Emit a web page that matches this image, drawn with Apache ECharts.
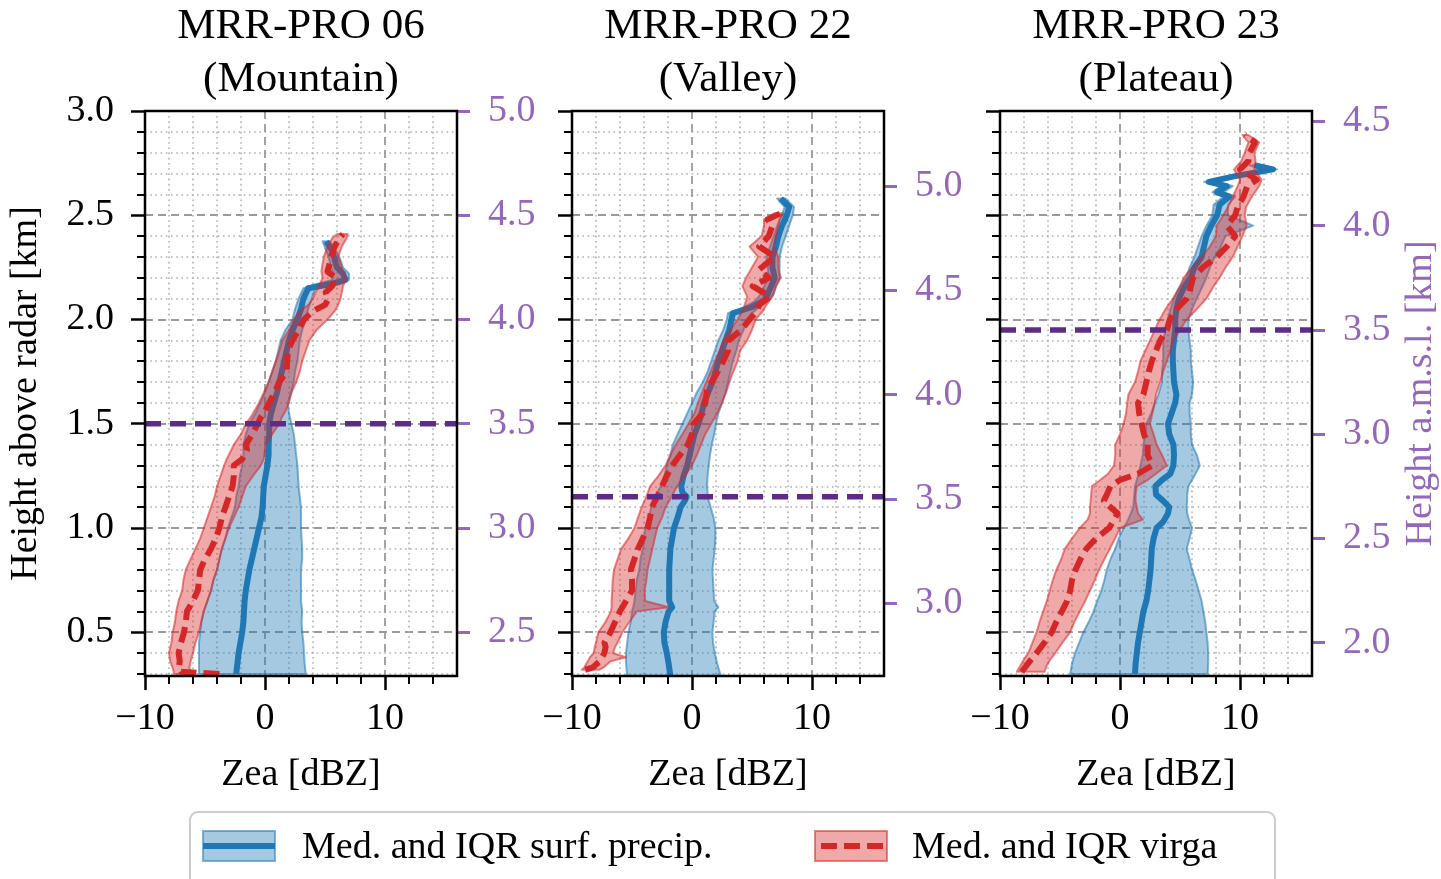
<!DOCTYPE html>
<html><head><meta charset="utf-8">
<script src="https://cdn.jsdelivr.net/npm/echarts@6/dist/echarts.min.js"></script>
<style>html,body{margin:0;padding:0;background:#fff}#c{width:1441px;height:879px}</style>
</head><body><div id="c"></div>
<script>
// ---------- data ----------
const panelTitles = ['MRR-PRO 06\n(Mountain)', 'MRR-PRO 22\n(Valley)', 'MRR-PRO 23\n(Plateau)'];
const radarAltitude = [2.0, 2.36, 1.55];          // km a.m.s.l. of each radar
const refLineHeight = [1.5, 1.15, 1.95];          // km above radar (dashed purple line)
const xMajorTicks = [-10, 0, 10];
const xMinorTicks = [-8, -6, -4, -2, 2, 4, 6, 8, 12, 14];
const yMajorTicks = [0.5, 1.0, 1.5, 2.0, 2.5, 3.0];
const yMinorTicks = [0.3,0.4,0.6,0.7,0.8,0.9,1.1,1.2,1.3,1.4,1.6,1.7,1.8,1.9,2.1,2.2,2.3,2.4,2.6,2.7,2.8,2.9];
const rightTicks = [[2.5,3.0,3.5,4.0,4.5,5.0],[3.0,3.5,4.0,4.5,5.0],[2.0,2.5,3.0,3.5,4.0,4.5]];
const legendLabels = ['Med. and IQR surf. precip.', 'Med. and IQR virga'];

// Panel 1 (Mountain)
const p1SurfH   = [0.30,0.35,0.40,0.45,0.50,0.55,0.60,0.65,0.70,0.75,0.80,0.85,0.90,0.95,1.00,1.05,1.10,1.15,1.20,1.25,1.30,1.35,1.40,1.45,1.50,1.55,1.60,1.65,1.70,1.75,1.80,1.85,1.90,1.95,2.00,2.05,2.10,2.15,2.17,2.19,2.22,2.25,2.30,2.33,2.375];
const p1SurfMed = [-2.4,-2.3,-2.2,-2.05,-1.9,-1.8,-1.75,-1.7,-1.6,-1.45,-1.3,-1.1,-0.9,-0.7,-0.5,-0.3,-0.2,-0.15,-0.1,0.05,0.2,0.3,0.3,0.35,0.35,0.5,0.75,1.0,1.2,1.4,1.6,1.8,2.0,2.3,2.7,3.0,3.2,3.6,5.5,6.7,6.5,6.0,5.75,5.6,5.1];
const p1SurfQ25 = [-5.5,-5.5,-5.5,-5.5,-5.4,-5.3,-5.1,-4.8,-4.5,-4.3,-4.0,-3.8,-3.6,-3.3,-3.1,-2.8,-2.5,-2.4,-2.2,-2.1,-1.9,-1.8,-1.8,-1.6,-1.3,-0.8,-0.4,0.0,0.3,0.6,0.9,1.1,1.3,1.7,2.3,2.5,2.8,3.2,4.3,5.6,5.7,5.5,5.3,5.1,4.8];
const p1SurfQ75 = [3.4,3.3,3.25,3.2,3.1,3.05,3.1,3.0,3.0,3.0,3.0,3.1,3.1,3.05,3.0,3.0,3.0,2.9,2.8,2.75,2.7,2.6,2.5,2.4,2.2,2.0,1.9,2.2,2.4,2.5,2.7,2.8,2.9,3.1,3.4,3.6,3.9,4.2,6.3,7.0,7.0,6.5,6.2,5.9,5.4];
const p1VirgaH   = [0.30,0.31,0.33,0.36,0.40,0.45,0.50,0.55,0.60,0.65,0.70,0.75,0.80,0.85,0.90,0.95,1.00,1.05,1.10,1.15,1.20,1.25,1.30,1.33,1.375,1.40,1.45,1.50,1.53,1.56,1.60,1.65,1.70,1.75,1.80,1.85,1.90,1.95,2.00,2.04,2.07,2.10,2.13,2.16,2.20,2.23,2.27,2.30,2.35,2.39,2.41];
const p1VirgaMed = [-3.8,-7.0,-7.2,-7.1,-7.2,-7.0,-6.75,-6.6,-6.5,-6.0,-5.6,-5.5,-5.4,-5.0,-4.5,-4.1,-3.8,-3.6,-3.3,-3.0,-2.7,-2.6,-2.6,-1.9,-1.5,-1.6,-1.05,-0.6,-0.35,0.0,0.35,0.8,1.2,1.8,1.85,1.9,2.3,2.8,3.25,4.0,5.0,5.3,5.05,5.6,5.9,5.2,5.4,5.5,5.8,6.2,6.5];
const p1VirgaQ25 = [-7.6,-7.6,-7.7,-7.9,-8.0,-7.8,-7.7,-7.5,-7.4,-7.2,-6.9,-6.8,-6.6,-6.2,-5.8,-5.4,-5.1,-4.8,-4.5,-4.2,-4.0,-3.7,-3.4,-3.2,-2.8,-2.6,-2.0,-1.6,-1.2,-0.9,-0.5,-0.1,0.3,0.6,0.9,1.2,1.45,2.0,2.4,2.9,3.6,4.0,4.2,4.5,4.8,4.7,4.8,4.9,5.2,5.6,6.0];
const p1VirgaQ75 = [-5.9,-6.2,-6.3,-6.2,-6.0,-5.8,-5.5,-5.3,-5.1,-4.8,-4.5,-4.3,-4.0,-3.8,-3.6,-3.3,-3.0,-2.6,-2.2,-1.9,-1.6,-1.0,-0.35,-0.1,0.0,0.0,0.6,1.2,1.4,1.7,2.0,2.2,2.6,2.9,3.1,3.4,3.7,4.3,5.2,5.8,6.1,6.3,6.4,6.5,6.8,6.5,6.3,6.1,6.4,6.8,6.9];

// Panel 2 (Valley)
const p2SurfH   = [0.29,0.35,0.40,0.45,0.50,0.55,0.60,0.62,0.65,0.70,0.75,0.80,0.85,0.90,0.95,1.00,1.05,1.10,1.13,1.15,1.17,1.20,1.25,1.30,1.35,1.40,1.45,1.50,1.55,1.60,1.65,1.70,1.75,1.80,1.85,1.90,1.95,2.00,2.03,2.06,2.09,2.12,2.16,2.20,2.25,2.30,2.35,2.40,2.45,2.50,2.54,2.58];
const p2SurfMed = [-1.8,-1.95,-2.1,-2.3,-2.35,-2.2,-1.95,-1.65,-1.9,-1.9,-1.9,-1.9,-1.85,-1.8,-1.65,-1.5,-1.2,-0.95,-0.6,-0.45,-0.8,-0.9,-0.7,-0.4,-0.2,0.0,0.2,0.55,0.8,1.0,1.35,1.7,1.95,2.2,2.5,2.8,3.1,3.3,3.4,5.0,6.0,6.3,6.6,6.9,6.7,6.7,7.0,7.2,7.5,7.9,8.1,7.4];
const p2SurfQ25 = [-5.4,-5.5,-5.5,-5.4,-5.3,-5.1,-5.0,-4.9,-4.8,-4.7,-4.6,-4.4,-4.3,-4.1,-4.0,-3.9,-3.6,-3.4,-3.2,-3.0,-2.9,-2.6,-2.3,-2.1,-1.8,-1.6,-1.2,-0.8,-0.4,0.0,0.4,0.9,1.3,1.6,1.9,2.2,2.6,2.9,3.0,4.4,5.3,5.7,6.0,6.4,6.3,6.2,6.5,6.8,7.1,7.5,7.7,7.1];
const p2SurfQ75 = [2.4,2.1,1.9,1.75,1.7,1.8,1.9,2.2,1.85,1.8,1.75,1.7,1.8,1.9,1.95,1.95,1.8,1.55,1.4,1.3,1.3,1.25,1.3,1.4,1.5,1.65,1.85,2.0,2.2,2.5,2.8,3.0,3.2,3.4,3.7,3.9,4.3,4.6,5.0,5.6,6.3,6.8,7.0,7.3,7.3,7.3,7.5,7.8,8.1,8.4,8.5,7.8];
const p2VirgaH   = [0.32,0.33,0.36,0.38,0.40,0.43,0.45,0.50,0.55,0.60,0.62,0.65,0.70,0.75,0.80,0.85,0.90,0.95,1.00,1.05,1.10,1.15,1.20,1.25,1.30,1.35,1.40,1.45,1.50,1.55,1.60,1.66,1.73,1.80,1.85,1.90,1.95,2.00,2.04,2.07,2.11,2.16,2.20,2.24,2.30,2.35,2.40,2.45,2.48,2.51];
const p2VirgaMed = [-8.9,-8.3,-7.7,-7.5,-7.3,-7.2,-7.3,-6.8,-6.4,-6.0,-5.8,-5.5,-5.0,-5.0,-5.1,-4.8,-4.5,-4.1,-3.7,-3.5,-3.35,-2.9,-2.5,-2.1,-1.65,-1.0,-0.35,0.0,0.15,0.9,1.1,1.25,1.95,2.6,3.0,3.05,4.1,4.8,5.4,5.6,6.5,5.05,6.4,5.6,6.9,5.6,6.4,6.7,6.3,7.4];
const p2VirgaQ25 = [-9.2,-9.0,-8.7,-8.5,-8.2,-8.1,-8.0,-7.8,-7.2,-6.75,-6.7,-6.7,-6.65,-6.6,-6.5,-6.2,-5.9,-5.3,-4.8,-4.5,-4.2,-3.8,-3.5,-2.8,-2.2,-1.8,-1.35,-0.8,-0.3,0.2,0.5,0.9,1.4,1.9,2.3,2.6,3.2,3.8,4.2,4.4,4.6,4.2,4.5,4.9,5.5,4.8,5.8,6.0,6.0,6.9];
const p2VirgaQ75 = [-7.7,-7.4,-6.8,-5.5,-6.6,-6.4,-6.2,-5.8,-5.2,-4.6,-1.9,-3.9,-3.95,-3.8,-3.7,-3.5,-3.3,-3.1,-2.9,-2.5,-2.2,-1.7,-1.25,-0.6,0.0,0.4,0.75,1.1,1.6,2.1,2.5,2.9,3.3,3.8,4.0,4.6,5.0,5.3,5.9,6.2,6.7,7.0,7.4,7.2,7.2,6.8,7.0,7.2,7.3,7.6];

// Panel 3 (Plateau)
const p3SurfH   = [0.30,0.35,0.40,0.45,0.50,0.55,0.60,0.65,0.70,0.75,0.80,0.85,0.90,0.95,1.00,1.03,1.07,1.10,1.13,1.16,1.20,1.23,1.26,1.30,1.35,1.40,1.45,1.50,1.55,1.60,1.64,1.70,1.75,1.80,1.85,1.90,1.95,2.00,2.05,2.10,2.15,2.20,2.25,2.30,2.35,2.40,2.45,2.50,2.55,2.59,2.61,2.64,2.66,2.69,2.72,2.74];
const p3SurfMed = [1.25,1.3,1.4,1.5,1.65,1.8,1.95,2.2,2.35,2.45,2.55,2.6,2.65,2.8,3.05,3.6,4.0,4.1,3.6,3.0,2.95,3.5,4.2,4.45,4.5,4.45,4.1,4.0,4.3,4.6,4.7,4.5,4.45,4.4,4.4,4.5,4.6,4.6,4.7,4.9,5.3,5.9,6.2,6.8,7.0,7.2,7.6,8.1,8.3,9.1,8.1,8.9,7.4,9.8,12.75,11.2];
const p3SurfQ25 = [-4.15,-4.0,-3.75,-3.4,-3.05,-2.6,-2.2,-1.9,-1.55,-1.3,-1.1,-0.8,-0.4,-0.1,0.3,0.6,0.9,1.1,1.15,1.2,1.25,1.4,1.55,1.7,1.9,1.95,2.1,2.2,2.6,2.9,3.2,3.5,3.5,3.6,3.6,3.6,3.8,4.0,4.2,4.5,4.9,5.5,5.8,6.2,6.5,6.8,7.2,7.7,7.8,8.6,7.7,8.4,7.0,9.3,11.8,10.8];
const p3SurfQ75 = [7.3,7.35,7.35,7.3,7.2,7.1,6.95,6.8,6.55,6.3,6.0,5.8,5.55,5.8,6.0,5.8,5.6,5.55,5.6,5.6,5.7,6.0,6.3,6.65,6.4,6.0,5.9,5.9,5.8,5.8,6.0,6.1,6.0,5.9,5.9,5.8,5.7,5.7,6.0,6.4,6.8,7.2,7.5,7.9,8.4,8.8,11.1,9.0,9.0,9.6,8.6,9.4,8.0,10.3,13.1,11.6];
const p3VirgaH   = [0.31,0.34,0.37,0.40,0.45,0.50,0.55,0.60,0.65,0.70,0.75,0.80,0.85,0.90,0.95,1.00,1.04,1.07,1.10,1.13,1.16,1.20,1.23,1.26,1.30,1.35,1.40,1.45,1.50,1.55,1.60,1.64,1.70,1.75,1.80,1.85,1.90,1.95,2.00,2.05,2.10,2.13,2.16,2.20,2.25,2.30,2.35,2.40,2.45,2.50,2.54,2.59,2.64,2.67,2.72,2.76,2.80,2.85,2.885];
const p3VirgaMed = [-8.2,-7.8,-7.4,-6.95,-6.3,-5.7,-5.3,-4.85,-4.4,-4.15,-4.0,-3.7,-3.3,-2.8,-2.0,-0.9,-0.5,-0.2,-0.8,-1.35,-1.1,-0.8,0.0,1.5,2.7,2.3,2.3,2.0,1.8,1.6,1.5,1.95,2.2,2.4,2.65,3.0,3.35,3.9,4.15,4.7,5.55,5.8,5.9,6.1,6.9,8.05,8.9,9.6,8.9,9.6,9.8,10.3,10.6,11.4,10.0,10.7,10.8,11.25,10.4];
const p3VirgaQ25 = [-8.6,-8.3,-8.0,-7.65,-7.3,-6.95,-6.7,-6.4,-6.1,-5.85,-5.6,-5.3,-4.9,-4.6,-4.0,-3.35,-2.7,-2.5,-2.5,-2.45,-2.4,-2.35,-1.65,-1.0,-0.5,-0.4,-0.4,0.0,0.3,0.5,0.6,0.7,1.25,1.5,1.7,2.1,2.5,2.9,3.3,3.8,4.4,4.7,5.0,5.3,6.0,6.8,7.5,8.0,8.05,8.6,9.0,9.4,9.8,10.0,9.5,10.1,10.4,10.7,10.2];
const p3VirgaQ75 = [-6.3,-6.1,-5.8,-5.4,-4.8,-4.15,-3.8,-3.35,-2.9,-2.5,-2.1,-1.75,-1.3,-0.85,-0.4,0.0,1.9,1.5,1.4,1.3,1.3,1.4,2.3,3.0,3.9,3.5,3.05,2.8,2.5,2.7,2.9,3.0,3.35,3.6,3.9,4.2,4.45,5.0,5.55,6.4,7.2,7.5,7.8,8.3,8.8,9.4,9.8,10.2,10.55,10.4,10.5,11.0,11.6,11.8,11.2,11.3,11.2,11.6,10.7];

const panels = [
  {surf:[p1SurfH,p1SurfMed,p1SurfQ25,p1SurfQ75], virga:[p1VirgaH,p1VirgaMed,p1VirgaQ25,p1VirgaQ75]},
  {surf:[p2SurfH,p2SurfMed,p2SurfQ25,p2SurfQ75], virga:[p2VirgaH,p2VirgaMed,p2VirgaQ25,p2VirgaQ75]},
  {surf:[p3SurfH,p3SurfMed,p3SurfQ25,p3SurfQ75], virga:[p3VirgaH,p3VirgaMed,p3VirgaQ25,p3VirgaQ75]}
];

// ---------- style / layout ----------
const FONT = "'Liberation Serif','DejaVu Serif',serif";
const BLUE = '#1f77b4', RED = '#d62728', PURPLE = '#9467bd', LINEPURPLE = '#5e2c87';
const GL = [145, 572, 1000], GT = 111, GW = 312, GH = 565;
const XMIN = -10, XMAX = 16, YMIN = 0.29, YMAX = 3.0;
const FS = 38;
const MAJOR_GRID = {color: '#9a9a9a', width: 1.8, type: [8, 5]};
const MINOR_GRID = {color: '#b0b0b0', width: 1.6, type: [1.6, 3.6]};

function rgba(hex, a) {
  const n = parseInt(hex.slice(1), 16);
  return `rgba(${(n>>16)&255},${(n>>8)&255},${n&255},${a})`;
}
const minusFmt = v => (v < 0 ? '\u2212' + Math.abs(v) : String(v));

const grid = [], xAxis = [], yAxis = [], series = [], title = [];
panels.forEach((p, g) => {
  grid.push({left: GL[g], top: GT, width: GW, height: GH, show: true, borderColor: '#000', borderWidth: 2.5, backgroundColor: 'transparent', z: 10});
  title.push({text: panelTitles[g], left: GL[g] + GW/2, top: 0, textAlign: 'center', padding: 0,
    textStyle: {fontSize: 43, fontWeight: 'normal', fontFamily: FONT, color: '#000', lineHeight: 53}});
  // major x
  xAxis.push({gridIndex: g, type: 'value', min: XMIN, max: XMAX, position: 'bottom',
    axisLine: {show: false, onZero: false},
    axisTick: {show: true, customValues: xMajorTicks, length: 14, lineStyle: {color: '#000', width: 2.5}},
    axisLabel: {customValues: xMajorTicks, formatter: minusFmt, fontSize: FS, fontFamily: FONT, color: '#000', margin: 24},
    splitLine: {show: true, lineStyle: MAJOR_GRID},
    name: 'Zea [dBZ]', nameLocation: 'middle', nameGap: 80,
    nameTextStyle: {fontSize: FS, fontFamily: FONT, color: '#000'}});
  // minor x
  xAxis.push({gridIndex: g, type: 'value', min: XMIN, max: XMAX, position: 'bottom',
    axisLine: {show: false, onZero: false},
    axisTick: {show: true, customValues: xMinorTicks, length: 8, lineStyle: {color: '#000', width: 2}},
    axisLabel: {show: false},
    splitLine: {show: true, lineStyle: MINOR_GRID}});
  // major left y
  yAxis.push({gridIndex: g, type: 'value', min: YMIN, max: YMAX, position: 'left',
    axisLine: {show: false, onZero: false},
    axisTick: {show: true, customValues: yMajorTicks, length: 14, lineStyle: {color: '#000', width: 2.5}},
    axisLabel: {show: g === 0, customValues: yMajorTicks, formatter: v => v.toFixed(1), fontSize: FS, fontFamily: FONT, color: '#000', margin: 31},
    splitLine: {show: true, lineStyle: MAJOR_GRID},
    name: g === 0 ? 'Height above radar [km]' : '', nameLocation: 'middle', nameGap: 100,
    nameTextStyle: {fontSize: FS, fontFamily: FONT, color: '#000'}});
  // minor left y
  yAxis.push({gridIndex: g, type: 'value', min: YMIN, max: YMAX, position: 'left',
    axisLine: {show: false, onZero: false},
    axisTick: {show: true, customValues: yMinorTicks, length: 8, lineStyle: {color: '#000', width: 2}},
    axisLabel: {show: false},
    splitLine: {show: true, lineStyle: MINOR_GRID}});
  // right a.m.s.l. axis
  yAxis.push({gridIndex: g, type: 'value', min: YMIN + radarAltitude[g], max: YMAX + radarAltitude[g], position: 'right',
    axisLine: {show: false, onZero: false},
    axisTick: {show: true, customValues: rightTicks[g], length: 13, lineStyle: {color: PURPLE, width: 3}},
    axisLabel: {customValues: rightTicks[g], formatter: v => v.toFixed(1), fontSize: FS, fontFamily: FONT, color: PURPLE, margin: 31},
    splitLine: {show: false},
    name: g === 2 ? 'Height a.m.s.l. [km]' : '', nameLocation: 'middle', nameGap: 90,
    nameTextStyle: {fontSize: FS, fontFamily: FONT, color: PURPLE}});

  const xi = 2*g, yi = 3*g;
  const band = (arr, color, z) => {
    const [H, , lo, hi] = arr;
    return {type: 'custom', xAxisIndex: xi, yAxisIndex: yi, clip: true, silent: true, z: z,
      data: H.map((h, i) => [lo[i], h, hi[i]]), encode: {x: [0, 2], y: 1},
      renderItem: (params, api) => {
        if (params.dataIndex !== 0) return null;
        const pts = [];
        for (let i = 0; i < H.length; i++) pts.push(api.coord([lo[i], H[i]]));
        for (let i = H.length - 1; i >= 0; i--) pts.push(api.coord([hi[i], H[i]]));
        return {type: 'polygon', shape: {points: pts},
          style: {fill: rgba(color, 0.4), stroke: rgba(color, 0.55), lineWidth: 2, lineJoin: 'round'}};
      }};
  };
  const med = (arr, color, dashed, z) => {
    const [H, m] = arr;
    return {type: 'line', xAxisIndex: xi, yAxisIndex: yi, showSymbol: false, symbol: 'none', silent: true, z: z,
      data: H.map((h, i) => [m[i], h]),
      lineStyle: {color: color, width: 6, type: dashed ? [16, 7] : 'solid', join: 'round', cap: 'butt'}};
  };
  series.push(band(p.surf, BLUE, 2));
  series.push(med(p.surf, BLUE, false, 3));
  series.push(band(p.virga, RED, 4));
  series.push(med(p.virga, RED, true, 5));
  series.push({type: 'line', xAxisIndex: xi, yAxisIndex: yi, showSymbol: false, symbol: 'none', silent: true, z: 6,
    data: [[XMIN, refLineHeight[g]], [XMAX, refLineHeight[g]]],
    lineStyle: {color: LINEPURPLE, width: 5.5, type: [16, 9]}});
});

// legend (drawn as graphic)
const graphic = [
  {type: 'rect', shape: {x: 190, y: 812, width: 1085, height: 95, r: 8}, style: {fill: 'rgba(255,255,255,0.85)', stroke: '#cccccc', lineWidth: 2}, z: 20},
  {type: 'rect', shape: {x: 203, y: 831, width: 72, height: 30}, style: {fill: rgba(BLUE, 0.4), stroke: rgba(BLUE, 0.55), lineWidth: 2}, z: 21},
  {type: 'line', shape: {x1: 203, y1: 846, x2: 275, y2: 846}, style: {stroke: BLUE, lineWidth: 6}, z: 22},
  {type: 'text', x: 302, y: 848, style: {text: legendLabels[0], fontSize: FS, fontFamily: FONT, fill: '#000', verticalAlign: 'middle'}, z: 22},
  {type: 'rect', shape: {x: 815, y: 831, width: 72, height: 30}, style: {fill: rgba(RED, 0.4), stroke: rgba(RED, 0.55), lineWidth: 2}, z: 21},
  {type: 'line', shape: {x1: 815, y1: 846, x2: 887, y2: 846}, style: {stroke: RED, lineWidth: 6, lineDash: [16, 7], lineDashOffset: -6}, z: 22},
  {type: 'text', x: 912, y: 848, style: {text: legendLabels[1], fontSize: FS, fontFamily: FONT, fill: '#000', verticalAlign: 'middle'}, z: 22}
];

const chart = echarts.init(document.getElementById('c'), null, {renderer: 'canvas'});
chart.setOption({animation: false, backgroundColor: '#fff', title, grid, xAxis, yAxis, series, graphic});
</script></body></html>
